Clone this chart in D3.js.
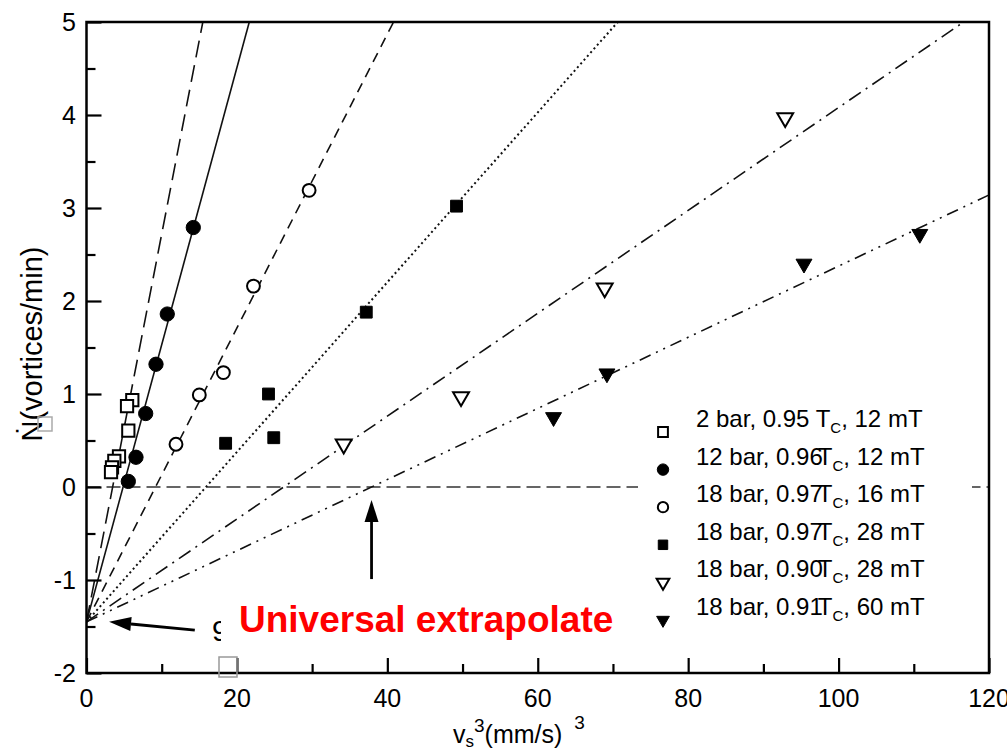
<!DOCTYPE html>
<html>
<head>
<meta charset="utf-8">
<script src="https://cdn.jsdelivr.net/npm/d3@7"></script>
<style>
  body { margin: 0; background: #fff; }
  text { font-family: "Liberation Sans", Arial, sans-serif; }
</style>
</head>
<body>
<svg id="chart"></svg>
<script>
'use strict'

const width = 1007,
      height = 752

// data
const seriesLabels = [
  ["2 bar, 0.95 ", ", 12 mT"],
  ["12 bar, 0.96", ", 12 mT"],
  ["18 bar, 0.97", ", 16 mT"],
  ["18 bar, 0.97", ", 28 mT"],
  ["18 bar, 0.90", ", 28 mT"],
  ["18 bar, 0.91", ", 60 mT"]
]
const seriesSymbols = ["squareOpen", "circleFilled", "circleOpen", "squareFilled", "triangleOpen", "triangleFilled"]

const xs2bar = [6.09, 5.39, 5.56, 4.32, 3.70, 3.39, 3.26]
const ys2bar = [0.935, 0.87, 0.605, 0.33, 0.28, 0.21, 0.16]
const xs12bar = [5.56, 6.58, 7.87, 9.24, 10.74, 14.2]
const ys12bar = [0.06, 0.32, 0.79, 1.32, 1.86, 2.79]
const xs18a = [11.9, 15.0, 18.2, 22.2, 29.6]
const ys18a = [0.46, 0.99, 1.23, 2.16, 3.19]
const xs18b = [18.5, 24.2, 24.9, 37.2, 49.2]
const ys18b = [0.47, 1.0, 0.53, 1.88, 3.02]
const xs18c = [34.2, 49.8, 68.9, 92.9]
const ys18c = [0.46, 0.97, 2.14, 3.97]
const xs18d = [62.1, 69.2, 95.4, 110.8]
const ys18d = [0.75, 1.22, 2.40, 2.72]

const seriesX = [xs2bar, xs12bar, xs18a, xs18b, xs18c, xs18d]
const seriesY = [ys2bar, ys12bar, ys18a, ys18b, ys18c, ys18d]

// straight fits, all through the same intercept
const fitIntercept = -1.45
const fitSlopes = [0.417, 0.298, 0.158, 0.0913, 0.0553, 0.03825]
const fitDashes = ["17,8", null, "10,7", "2,3", "14,6,2,6", "12,6,2,6,2,6"]

const xMajor = [0, 20, 40, 60, 80, 100, 120]
const xMinor = [10, 30, 50, 70, 90, 110]
const yMajor = [-2, -1, 0, 1, 2, 3, 4, 5]
const yMinor = [-1.5, -0.5, 0.5, 1.5, 2.5, 3.5, 4.5]

const svg = d3.select("#chart")
svg.attr("width", width).attr("height", height)

const x = d3.scaleLinear().domain([0, 120]).range([86.5, 989])
const y = d3.scaleLinear().domain([-2, 5]).range([673, 22])

// clip for the lines
svg.append("clipPath").attr("id", "plot")
  .append("rect")
    .attr("x", x(0)).attr("y", y(5))
    .attr("width", x(120) - x(0)).attr("height", y(-2) - y(5))

// zero line
svg.append("line")
  .attr("x1", x(0)).attr("x2", x(120))
  .attr("y1", y(0)).attr("y2", y(0))
  .attr("stroke", "#333").attr("stroke-width", 1.5)
  .attr("stroke-dasharray", "14,6")

// fit lines
const fits = svg.append("g").attr("clip-path", "url(#plot)")
fitSlopes.forEach((m, i) => {
  const xEnd = Math.min(120, (5 - fitIntercept) / m)
  fits.append("line")
    .attr("x1", x(0)).attr("y1", y(fitIntercept))
    .attr("x2", x(xEnd)).attr("y2", y(fitIntercept + m * xEnd))
    .attr("stroke", "#111")
    .attr("stroke-width", i === 3 ? 2 : 1.6)
    .attr("stroke-dasharray", fitDashes[i])
})

// symbol helper
function drawSymbol(g, kind, big) {
  const s = big ? 1 : 0.8
  let path, open = kind.endsWith("Open"), rot = 0
  if (kind.startsWith("square")) path = d3.symbol(d3.symbolSquare, (open ? 150 : 140) * s * s)()
  else if (kind.startsWith("circle")) path = d3.symbol(d3.symbolCircle, (open ? 130 : 160) * s * s)()
  else { path = d3.symbol(d3.symbolTriangle, 110 * s * s)(); rot = 180 }
  g.append("path")
    .attr("d", path)
    .attr("transform", `rotate(${rot})`)
    .attr("fill", open ? "#fff" : "#000")
    .attr("stroke", "#000")
    .attr("stroke-width", open ? 2 : 1)
}

// data points
seriesX.forEach((xsArr, i) => {
  xsArr.forEach((v, j) => {
    const g = svg.append("g").attr("transform", `translate(${x(v)},${y(seriesY[i][j])})`)
    drawSymbol(g, seriesSymbols[i], true)
  })
})

// axes with inward ticks
function xTicks(vals, size) {
  return d3.axisBottom(x).tickValues(vals).tickSize(-size).tickFormat("")
}
function yTicks(vals, size) {
  return d3.axisLeft(y).tickValues(vals).tickSize(-size).tickFormat("")
}
const axes = svg.append("g")
axes.append("g").attr("transform", `translate(0,${y(-2)})`).call(xTicks(xMinor, 9))
axes.append("g").attr("transform", `translate(0,${y(-2)})`).call(xTicks(xMajor, 15))
axes.append("g").attr("transform", `translate(${x(0)},0)`).call(yTicks(yMinor, 9))
axes.append("g").attr("transform", `translate(${x(0)},0)`).call(yTicks(yMajor, 15))
axes.selectAll("line").attr("stroke", "#000").attr("stroke-width", 2.2)
axes.selectAll(".domain").remove()

// frame
svg.append("rect")
  .attr("x", x(0)).attr("y", y(5))
  .attr("width", x(120) - x(0)).attr("height", y(-2) - y(5))
  .attr("fill", "none").attr("stroke", "#000").attr("stroke-width", 2.5)

// tick labels
svg.append("g").selectAll("text").data(yMajor).join("text")
  .attr("x", 76).attr("y", d => y(d) + 9)
  .attr("text-anchor", "end")
  .attr("font-size", 25)
  .text(d => d)
svg.append("g").selectAll("text").data(xMajor).join("text")
  .attr("x", d => x(d)).attr("y", 707)
  .attr("text-anchor", "middle")
  .attr("font-size", 25)
  .text(d => d)

// axis titles
svg.append("text")
  .attr("transform", `translate(42,${344}) rotate(-90)`)
  .attr("text-anchor", "middle")
  .attr("font-size", 29)
  .text("\u1E44(vortices/min)")

const xt = svg.append("text").attr("x", 453).attr("y", 743).attr("font-size", 25)
xt.append("tspan").text("v")
xt.append("tspan").attr("font-size", 17).attr("dy", 4).text("s")
xt.append("tspan").attr("font-size", 19).attr("dy", -15).text("3")
xt.append("tspan").attr("dy", 11).text("(mm/s)")
xt.append("tspan").attr("font-size", 19).attr("dx", 12).attr("dy", -14).text("3")

// artifacts of the original image
svg.append("rect").attr("x", 38).attr("y", 417).attr("width", 14).attr("height", 14)
  .attr("fill", "none").attr("stroke", "#aaa").attr("stroke-width", 1.5)
svg.append("rect").attr("x", 219).attr("y", 657).attr("width", 18).attr("height", 20)
  .attr("fill", "none").attr("stroke", "#999").attr("stroke-width", 1.5)

// legend
const legend = svg.append("g")
legend.append("rect").attr("x", 638).attr("y", 402).attr("width", 334).attr("height", 230).attr("fill", "#fff")
seriesLabels.forEach((lab, i) => {
  const ly = 427 + i * 37.6
  const g = legend.append("g").attr("transform", `translate(663,${ly + 5})`)
  drawSymbol(g, seriesSymbols[i], false)
  const t = legend.append("text").attr("x", 696).attr("y", ly).attr("font-size", 24)
  t.append("tspan").text(lab[0])
  t.append("tspan").attr("dx", i === 0 ? 0 : -5).text("T")
  t.append("tspan").attr("font-size", 15).attr("dy", 6).text("C")
  t.append("tspan").attr("dy", -6).text(lab[1])
})

// annotation
svg.append("text").attr("x", 212).attr("y", 641).attr("font-size", 29).text("9")
svg.append("rect").attr("x", 221).attr("y", 595).attr("width", 405).attr("height", 56).attr("fill", "#fff")
svg.append("text")
  .attr("x", 239).attr("y", 632)
  .attr("fill", "#ff0000")
  .attr("font-family", "Lato, 'Open Sans', sans-serif")
  .attr("font-weight", 700)
  .attr("font-size", 37)
  .text("Universal extrapolate")

// arrows
function arrow(x1, y1, x2, y2) {
  const px1 = x(x1), py1 = y(y1), px2 = x(x2), py2 = y(y2)
  const a = Math.atan2(py2 - py1, px2 - px1)
  const len = 22, half = 7
  const bx = px2 - len * Math.cos(a), by = py2 - len * Math.sin(a)
  svg.append("line").attr("x1", px1).attr("y1", py1).attr("x2", bx).attr("y2", by)
    .attr("stroke", "#000").attr("stroke-width", 2.8)
  svg.append("path")
    .attr("d", `M${px2},${py2}L${bx - half * Math.sin(a)},${by + half * Math.cos(a)}L${bx + half * Math.sin(a)},${by - half * Math.cos(a)}Z`)
    .attr("fill", "#000")
}
arrow(14.4, -1.54, 3.0, -1.45)
arrow(37.9, -0.99, 37.9, -0.14)
</script>
</body>
</html>
